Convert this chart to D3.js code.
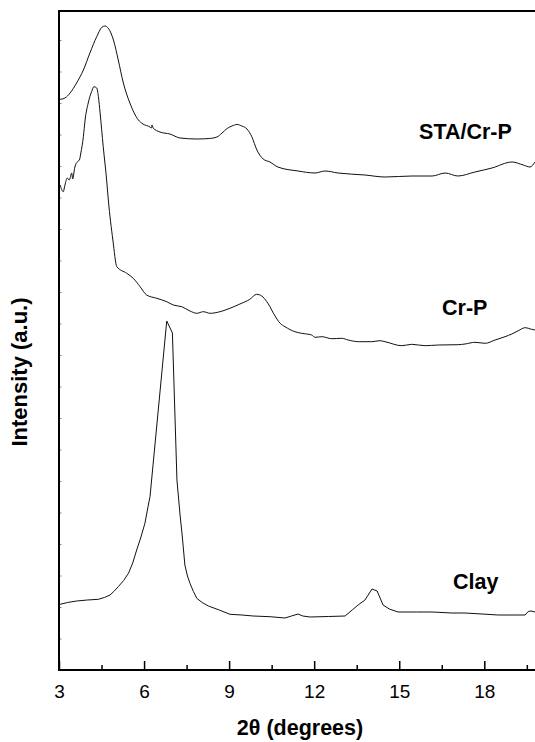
<!DOCTYPE html>
<html>
<head>
<meta charset="utf-8">
<script src="https://cdn.jsdelivr.net/npm/d3@7"></script>
<style>
  html, body { margin: 0; padding: 0; background: #fff; }
  svg { display: block; font-family: "Liberation Sans", Arial, sans-serif; }
</style>
</head>
<body>
<svg id="chart" width="535" height="742"></svg>
<script>
// Diffraction patterns: [2θ in degrees, intensity in arbitrary units (stacked offsets included)]
const staCrP = [
  [3.00, 570.7], [3.04, 570.7], [3.21, 572], [3.39, 577], [3.62, 587], [3.86, 600],
  [4.09, 617], [4.33, 633.3], [4.51, 642.7], [4.62, 644], [4.74, 641.7], [4.92, 630],
  [5.09, 610], [5.27, 587], [5.50, 567], [5.80, 550], [5.96, 546], [6.21, 543],
  [6.26, 542], [6.28, 545], [6.32, 542], [6.56, 538], [6.91, 536], [7.27, 532],
  [7.87, 531], [8.30, 531.5], [8.57, 533], [8.75, 537], [8.93, 541.5], [9.10, 544],
  [9.28, 545.5], [9.45, 544], [9.63, 541], [9.80, 533.3], [9.98, 520], [10.20, 511],
  [10.44, 508], [10.72, 503], [11.43, 499], [12.03, 497], [12.38, 499], [12.84, 497],
  [13.79, 495], [14.50, 493], [15.45, 494], [16.16, 494], [16.62, 497], [17.07, 494],
  [17.67, 498], [18.27, 502], [18.98, 508], [19.37, 505], [19.61, 503], [19.79, 508]
];

const crP = [
  [3.04, 485], [3.15, 478.3], [3.21, 485], [3.29, 492], [3.36, 490], [3.45, 497],
  [3.48, 491], [3.56, 503], [3.65, 508.3], [3.72, 510], [3.77, 517], [3.86, 533.3],
  [3.92, 550], [4.03, 567], [4.15, 578.3], [4.23, 583.3], [4.33, 582], [4.39, 573.3],
  [4.45, 557], [4.56, 523.3], [4.68, 490], [4.74, 470], [4.90, 430], [5.04, 403.3],
  [5.39, 396.7], [5.62, 391.7], [5.86, 383.3], [6.09, 375], [6.45, 371.7], [6.80, 368.3],
  [7.03, 365], [7.33, 363.3], [7.62, 359], [7.86, 356.7], [8.09, 358.3], [8.33, 356.7],
  [8.68, 358.3], [9.03, 361.7], [9.38, 366], [9.73, 370.7], [9.97, 375.7], [10.15, 374],
  [10.33, 368.3], [10.44, 363.3], [10.50, 360], [10.62, 354], [10.80, 346.7], [10.97, 343.3],
  [11.32, 338.3], [11.56, 336.7], [11.91, 335], [12.03, 332.7], [12.27, 333.3], [12.62, 331.3],
  [12.97, 331.7], [13.20, 330], [13.56, 328.3], [14.03, 328.3], [14.32, 329.3], [14.50, 328.3],
  [15.09, 324.3], [15.44, 325.7], [15.91, 324.3], [16.38, 325], [17.08, 325.3], [17.32, 326],
  [17.67, 327.7], [18.03, 326.7], [18.38, 330], [18.73, 333.3], [18.97, 336], [19.20, 339.3],
  [19.44, 342.3], [19.67, 340.7], [19.79, 340]
];

const clay = [
  [3.00, 66], [3.04, 65.7], [3.30, 67.5], [3.62, 69], [4.00, 70], [4.39, 70.7],
  [4.60, 72.5], [4.80, 75], [4.95, 79], [5.09, 83.3], [5.28, 89.5], [5.45, 96.7],
  [5.60, 107], [5.74, 120], [5.89, 133], [6.03, 146.7], [6.14, 163.3], [6.21, 173.3],
  [6.80, 349], [7.00, 337], [7.16, 190], [7.27, 155], [7.34, 136], [7.44, 105],
  [7.53, 94], [7.62, 86.7], [7.74, 78.5], [7.86, 71.7], [8.05, 67.5], [8.27, 64],
  [8.65, 60], [9.03, 55.7], [9.45, 55], [9.85, 54], [10.44, 53.3], [10.97, 52],
  [11.20, 54], [11.43, 56], [11.60, 54], [11.85, 53], [12.50, 53.5], [13.09, 54],
  [13.34, 60], [13.55, 65], [13.79, 70], [14.04, 81], [14.22, 79], [14.43, 65],
  [14.65, 61], [14.96, 58], [15.60, 58], [16.16, 58], [16.86, 57], [17.32, 57],
  [17.92, 56], [18.49, 55], [19.08, 55], [19.44, 55], [19.55, 58.5], [19.65, 59],
  [19.79, 58]
];

const seriesNames = ["STA/Cr-P", "Cr-P", "Clay"];
const xMajorTicks = [3, 6, 9, 12, 15, 18];
const xMinorTicks = [4.5, 7.5, 10.5, 13.5, 16.5, 19.5];
const xRange = [3, 20];
const yRange = [0, 659];
const yTickStep = 31.5;

const svg = d3.select("#chart");
const margin = { left: 59, right: -6, top: 11, bottom: 72 };
const W = 535, H = 742;

const x = d3.scaleLinear().domain(xRange).range([margin.left, W - margin.right]);
const y = d3.scaleLinear().domain(yRange).range([H - margin.bottom, margin.top]);

// minor ticks along the bottom
svg.append("g")
  .attr("transform", `translate(0,${y(0)})`)
  .call(d3.axisBottom(x).tickValues(xMinorTicks).tickSize(-5).tickFormat(""))
  .call(g => g.select(".domain").remove())
  .call(g => g.selectAll("line").attr("stroke", "#000").attr("stroke-width", 1.5));

// major ticks with labels
svg.append("g")
  .attr("transform", `translate(0,${y(0)})`)
  .call(d3.axisBottom(x).tickValues(xMajorTicks).tickSizeInner(-9).tickSizeOuter(0).tickPadding(14.5).tickFormat(d3.format("d")))
  .call(g => g.select(".domain").remove())
  .call(g => g.selectAll("line").attr("stroke", "#000").attr("stroke-width", 1.5))
  .call(g => g.selectAll("text")
    .attr("fill", "#000")
    .style("font-family", '"Liberation Sans", Arial, sans-serif')
    .style("font-size", "19px"));

// faint unlabeled ticks along the intensity axis
svg.append("g")
  .attr("transform", `translate(${x(xRange[0])},0)`)
  .call(d3.axisRight(y).tickValues(d3.range(yTickStep, yRange[1], yTickStep)).tickSize(2.5).tickFormat(""))
  .call(g => g.select(".domain").remove())
  .call(g => g.selectAll("line").attr("stroke", "#888").attr("stroke-width", 1));

// frame: left, bottom and top edges
svg.append("rect")
  .attr("x", x(xRange[0]))
  .attr("y", y(yRange[1]))
  .attr("width", x(xRange[1]) - x(xRange[0]))
  .attr("height", y(yRange[0]) - y(yRange[1]))
  .attr("fill", "none")
  .attr("stroke", "#000")
  .attr("stroke-width", 2);

// patterns: smooth interpolation for the broad scans, straight segments for the sharp clay reflection
const smoothLine = d3.line()
  .x(d => x(d[0]))
  .y(d => y(d[1]))
  .curve(d3.curveMonotoneX);
const straightLine = d3.line()
  .x(d => x(d[0]))
  .y(d => y(d[1]))
  .curve(d3.curveLinear);

const patterns = [
  { data: staCrP, gen: smoothLine },
  { data: crP, gen: smoothLine },
  { data: clay, gen: straightLine }
];
svg.append("g")
  .selectAll("path")
  .data(patterns)
  .join("path")
  .attr("d", p => p.gen(p.data))
  .attr("fill", "none")
  .attr("stroke", "#111")
  .attr("stroke-width", 1)
  .attr("stroke-linejoin", "round");

// series labels, anchored in data coordinates
const labelAnchors = [[15.70, 531], [16.51, 355], [16.90, 81]];
svg.append("g")
  .selectAll("text")
  .data(seriesNames)
  .join("text")
  .attr("x", (d, i) => x(labelAnchors[i][0]))
  .attr("y", (d, i) => y(labelAnchors[i][1]))
  .attr("font-size", 21.5)
  .attr("font-weight", "bold")
  .attr("fill", "#000")
  .text(d => d);

// axis titles
svg.append("text")
  .attr("x", (x(xRange[0]) + x(xRange[1])) / 2)
  .attr("y", 735)
  .attr("text-anchor", "middle")
  .attr("font-size", 21.5)
  .attr("font-weight", "bold")
  .attr("fill", "#000")
  .text("2θ (degrees)");

svg.append("text")
  .attr("transform", "translate(27,372) rotate(-90)")
  .attr("text-anchor", "middle")
  .attr("font-size", 22)
  .attr("font-weight", "bold")
  .attr("fill", "#000")
  .text("Intensity (a.u.)");
</script>
</body>
</html>
